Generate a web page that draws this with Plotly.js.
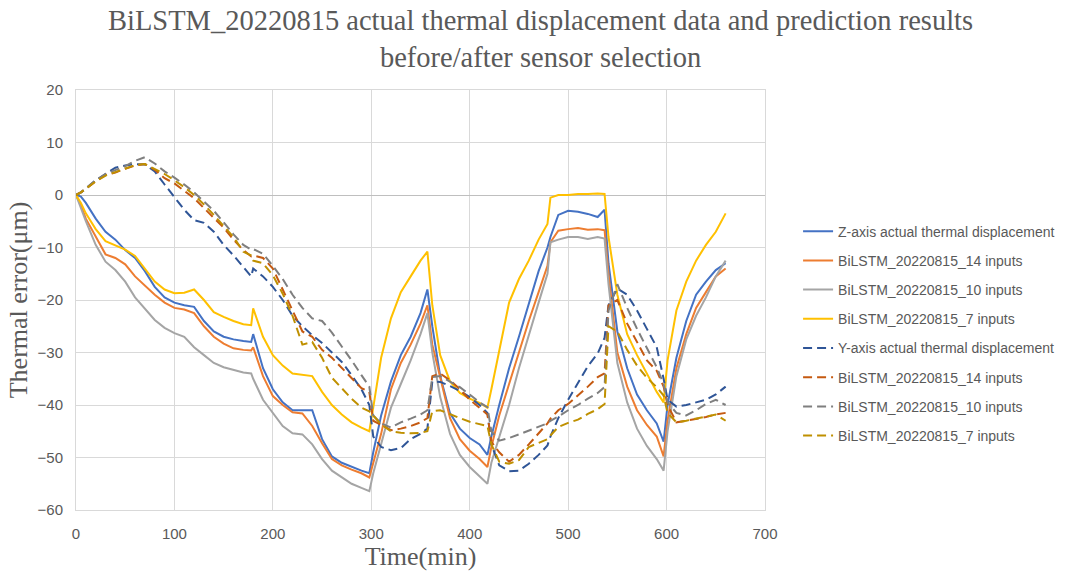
<!DOCTYPE html>
<html>
<head>
<meta charset="utf-8">
<script src="https://cdn.plot.ly/plotly-3.0.1.min.js"></script>
<style>html,body{margin:0;padding:0;background:#fff;}#chart{width:1092px;height:578px;}</style>
</head>
<body>
<div id="chart"></div>
<script>
// Time (min)
const time = [0,5,10,20,30,40,50,60,70,80,90,100,110,120,130,140,150,160,170,178,180,190,200,210,220,230,240,250,260,270,280,290,298,302,310,320,330,340,350,357,362,370,380,390,400,410,418,422,430,440,450,460,470,479,482,490,500,510,520,530,537,541,550,560,570,580,590,597,601,610,620,630,640,650,660];

// Z-axis (solid lines)
const zActual = [0,-0.3,-1.5,-4.5,-7,-8.5,-10.5,-12,-14.5,-17.5,-19.5,-20.5,-21,-21.3,-24,-26,-27,-27.5,-27.8,-28,-26.5,-33,-37,-39.5,-41,-41,-41,-46.5,-49.8,-51,-51.8,-52.5,-53,-49,-42,-35.5,-30.5,-27,-22.5,-18,-25,-34.5,-41.6,-44.5,-46.3,-47.5,-49.5,-46,-40,-33,-27,-20.5,-14.5,-10,-8,-3.8,-3,-3.2,-3.6,-4.2,-2.8,-13,-26,-33,-38,-41,-43.5,-47,-40,-31,-24,-19,-16.5,-14.3,-13];
const z14 = [0,-2,-4.5,-8,-11.3,-12,-13.2,-15.5,-17.3,-19,-20.5,-21.5,-21.8,-22.5,-25,-27,-28.3,-29.2,-29.5,-29.6,-29,-34.5,-38.3,-40,-41.4,-41.6,-44,-47.3,-50.3,-51.5,-52.3,-53,-53.8,-51,-45.5,-37,-32,-28.5,-24.5,-21,-28.5,-34.7,-42.5,-46.5,-48.7,-50.3,-51.8,-48,-42,-36,-30,-24,-18.5,-13.5,-9,-6.8,-6.5,-6.3,-6.6,-6.5,-6.7,-15,-30,-36.5,-41,-43.8,-46,-49.8,-43,-33,-26.5,-21.5,-18.5,-15.5,-14];
const z10 = [0,-2.5,-5,-9.5,-12.7,-14.3,-16.5,-19.5,-21.7,-23.8,-25.3,-26.3,-27,-29,-30.5,-32,-32.8,-33.3,-33.8,-34,-35,-39,-41.5,-44,-45.4,-45.6,-47.5,-50.3,-52.5,-53.8,-55,-55.8,-56.4,-53,-47.5,-40.5,-36,-31.5,-26.5,-22.5,-30,-38.5,-45.5,-49.5,-51.8,-53.5,-55,-51,-46,-40,-33,-26.5,-20.5,-15,-9,-8.5,-8,-8,-8.4,-8,-8.3,-17,-32,-39.5,-44.5,-47.8,-50.3,-52.5,-45,-34.5,-27.5,-23,-19.5,-15.5,-12.5];
const z7 = [0,-1.5,-3.5,-6.5,-8.8,-9.6,-10.4,-11.6,-14,-16.5,-18,-18.7,-18.6,-18,-20,-22.3,-23.2,-24,-24.6,-24.8,-21.6,-27,-30.5,-32.5,-34,-34.2,-34.5,-37.5,-40,-41.8,-43.3,-44.3,-45,-40.5,-31,-23.5,-18.5,-15.5,-12.5,-10.8,-21,-30.5,-35.5,-37.7,-38.8,-39.6,-40.5,-37,-29.5,-20.5,-16,-12.5,-8.5,-5.5,-0.5,0,0,0.2,0.2,0.3,0.2,-8,-19,-26.5,-30.5,-34,-37.5,-39.5,-31.5,-22,-16.5,-12.5,-9.5,-7,-3.5];

// Y-axis (dashed lines)
const yActual = [0,0.5,1.2,2.8,4,5.2,5.6,5.9,5.8,4.5,2,-0.5,-2.8,-4.8,-5.3,-7,-9.5,-11.5,-13.8,-15.5,-14,-15.5,-17.5,-20,-23,-25,-26.7,-28.2,-30,-31.8,-34.3,-37,-40,-46,-48,-48.6,-48.2,-46.5,-45.5,-44.5,-35.5,-35.6,-36.4,-37.3,-38.5,-40,-41.5,-47.5,-51.5,-52.6,-52.5,-51.2,-49.5,-47.7,-46,-42.5,-39,-35.8,-32.6,-30.2,-27.2,-21,-17.8,-19,-22,-25.5,-29,-35,-39,-40.3,-40,-39.5,-39,-38,-36.5];
const y14 = [0,0.5,1.2,2.6,3.8,4.3,5,5.6,5.9,4.8,3.2,2.2,0.8,-0.6,-2.5,-4.3,-6.2,-8.5,-10.5,-11.7,-11.5,-12,-14,-18,-22,-26,-27,-29.5,-31,-33,-35,-36.8,-37.5,-43,-43.8,-44.8,-44.5,-44,-43.3,-42.5,-34.5,-34,-35.3,-37,-39,-40.5,-41.8,-47,-49,-50.8,-49.5,-47.5,-45.5,-43.5,-42.6,-41,-39.8,-38.2,-36.5,-34.7,-34,-21,-20,-24.5,-28,-31.5,-33.5,-36.5,-40,-43.3,-43,-42.7,-42.3,-41.8,-41.5];
const y10 = [0,0.5,1.3,2.8,4,4.8,5.5,6.5,7.2,6,4.5,3.3,2,0.5,-1.3,-3,-5.2,-7.5,-9.5,-10.4,-10.3,-11.2,-13.5,-16,-19,-21.5,-23.5,-24,-26.2,-28.8,-31.5,-34.3,-36.5,-42,-43.5,-44.3,-43.3,-42.6,-41.8,-41,-34.7,-34.5,-35.5,-36.6,-38,-39.5,-40.4,-45,-46.8,-46.3,-45.6,-44.9,-44.2,-43.5,-43,-42.2,-41,-40,-38.8,-37.7,-36.6,-22,-17,-21.5,-25.5,-29.3,-32.8,-36,-39.5,-41.5,-42,-41,-39.8,-39,-40];
const y7 = [0,0.5,1.2,2.6,3.7,4.4,5,5.7,5.9,5,4,2.8,1.5,0,-1.8,-3.8,-6,-8,-10.8,-11.5,-12.5,-13,-15.3,-18.8,-23,-28.5,-28,-31,-34.8,-36.8,-38.8,-40.5,-41.2,-42,-43.7,-45,-45.3,-45.4,-45.3,-45,-41.2,-41,-41.8,-42.5,-43.2,-43.6,-44,-47.5,-50.8,-51.2,-50.5,-48,-47.2,-46.5,-45.8,-44.2,-43.4,-42.8,-41.7,-40.8,-39.8,-25,-26,-29.5,-32.5,-34.8,-36.6,-38.2,-41.5,-43.3,-43,-42.6,-42.3,-41.8,-43];

const names = [
  'Z-axis actual thermal displacement',
  'BiLSTM_20220815_14 inputs',
  'BiLSTM_20220815_10 inputs',
  'BiLSTM_20220815_7 inputs',
  'Y-axis actual thermal displacement',
  'BiLSTM_20220815_14 inputs',
  'BiLSTM_20220815_10 inputs',
  'BiLSTM_20220815_7 inputs'
];
const series = [zActual, z14, z10, z7, yActual, y14, y10, y7];
const colors = ['#4472C4','#ED7D31','#A5A5A5','#FFC000','#2F5597','#C55A11','#7F7F7F','#BF9000'];

const traces = series.map((vals, i) => ({
  type: 'scatter',
  mode: 'lines',
  x: time,
  y: vals,
  name: names[i],
  legendgroup: 'g' + i,
  line: {color: colors[i], width: 2, dash: i < 4 ? 'solid' : '9px,5px'}
}));

const serif = 'Liberation Serif, Times New Roman, serif';
const sans = 'Liberation Sans, Arial, sans-serif';

const layout = {
  width: 1092,
  height: 578,
  paper_bgcolor: '#ffffff',
  plot_bgcolor: '#ffffff',
  margin: {l: 76, r: 327, t: 90, b: 68},
  title: {
    text: 'BiLSTM_20220815 actual thermal displacement data and prediction results<br>before/after sensor selection',
    font: {family: serif, size: 28.5, color: '#595959'},
    x: 0.495, xref: 'container', xanchor: 'center',
    y: 0.948, yref: 'container', yanchor: 'top'
  },
  xaxis: {
    range: [0, 700],
    dtick: 100,
    tick0: 0,
    showgrid: true,
    gridcolor: '#D9D9D9',
    gridwidth: 1,
    zeroline: false,
    showline: true,
    linecolor: '#D9D9D9',
    mirror: true,
    ticks: '',
    ticklabelstandoff: 10,
    tickfont: {family: sans, size: 15, color: '#595959'},
    title: {text: 'Time(min)', font: {family: serif, size: 26, color: '#595959'}, standoff: 4}
  },
  yaxis: {
    range: [-60, 20],
    dtick: 10,
    tick0: 0,
    showgrid: true,
    gridcolor: '#D9D9D9',
    gridwidth: 1,
    zeroline: true,
    zerolinecolor: '#BFBFBF',
    zerolinewidth: 1,
    showline: true,
    linecolor: '#D9D9D9',
    mirror: true,
    ticks: '',
    ticklabelstandoff: 9,
    tickfont: {family: sans, size: 15, color: '#595959'},
    title: {text: 'Thermal error(μm)', font: {family: serif, size: 26, color: '#595959'}, standoff: 2}
  },
  showlegend: true,
  legend: {
    x: 1.048, xanchor: 'left',
    y: 0.42, yanchor: 'middle',
    font: {family: sans, size: 14, color: '#595959'},
    tracegroupgap: 8,
    bgcolor: 'rgba(0,0,0,0)'
  }
};

Plotly.newPlot('chart', traces, layout, {displayModeBar: false, staticPlot: true});
</script>
</body>
</html>
